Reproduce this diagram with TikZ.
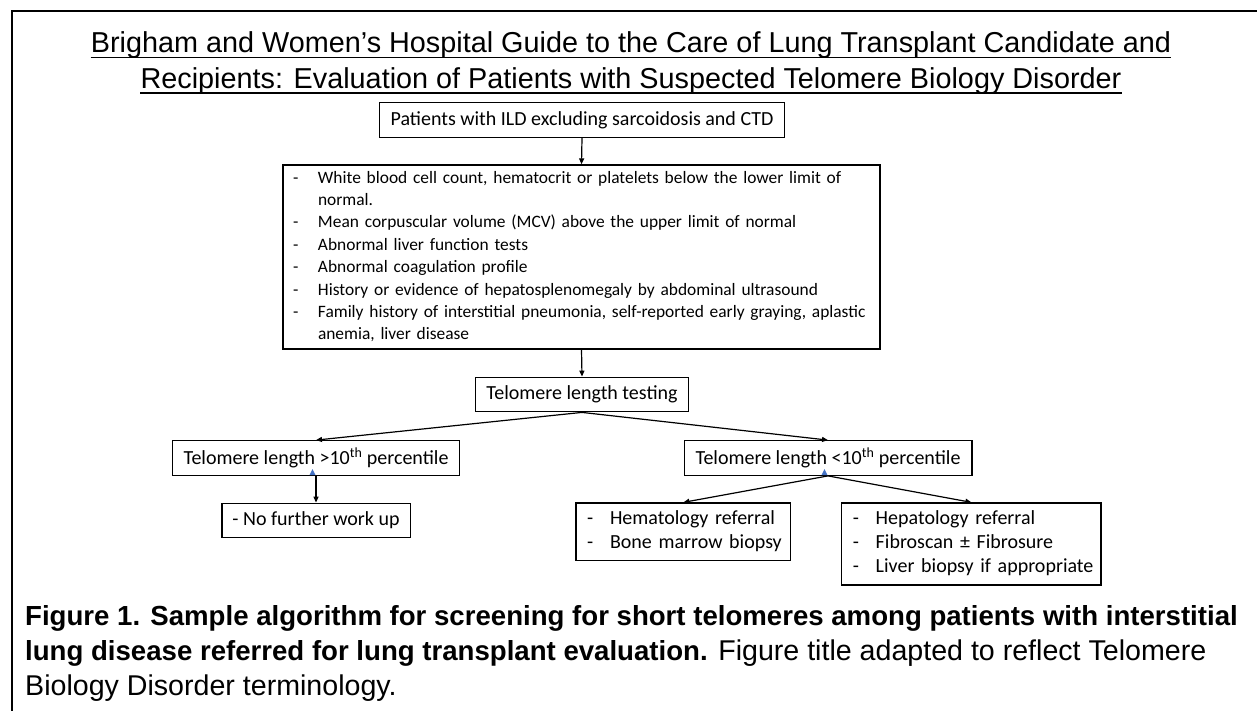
\documentclass[tikz,border=0pt]{standalone}
\usepackage{fontspec}
\setmainfont{Liberation Sans}
\newfontfamily\boxfont{Carlito}
\usetikzlibrary{arrows.meta}
\definecolor{blueblip}{RGB}{68,114,196}
\tikzset{
  frame/.style={line width=2.2pt},
  uline/.style={line width=1.8pt},
  titletxt/.style={inner sep=0pt, anchor=base, font=\fontsize{28.8}{34}\selectfont},
  capline/.style={inner sep=0pt, anchor=base west, font=\fontsize{28.6}{35}\selectfont},
  sbox/.style={draw, line width=1.3pt, inner xsep=9pt, inner ysep=0pt, font=\boxfont\fontsize{20}{24}\selectfont, minimum height=34.5pt},
  listbox/.style={draw, line width=1.3pt, inner xsep=11pt, inner ysep=0pt, align=left, font=\boxfont\fontsize{20}{24}\selectfont},
  conn/.style={line width=1.2pt, -{Triangle[length=6pt,width=5pt]}},
  blip/.style={fill=blueblip}
}
\newcommand{\capbold}[1]{{\fontsize{27.6}{35}\selectfont\bfseries #1}}
\begin{document}
\begin{tikzpicture}[x=1pt,y=-1pt]
\useasboundingbox (0,0) rectangle (1257,711);
% open frame
\coordinate (fbl) at (12,711);
\coordinate (ftl) at (12,11);
\coordinate (ftr) at (1257,11);
\draw[frame] (fbl) -- (ftl) -- (ftr);
% title
\node[titletxt] (t1) at (631,53) {Brigham and Women’s Hospital Guide to the Care of Lung Transplant Candidate and};
\node[titletxt] (t2) at (631,88.5) {Recipients: Evaluation of Patients with Suspected Telomere Biology Disorder};
\draw[uline] ([yshift=-4.5pt]t1.base west) -- ([yshift=-4.5pt]t1.base east);
\draw[uline] ([yshift=-4.5pt]t2.base west) -- ([yshift=-4.5pt]t2.base east);
% boxes
\node[sbox, minimum width=405pt] (a) at (582,120) {Patients with ILD excluding sarcoidosis and CTD};
\node[listbox, inner xsep=10pt, text width=577pt, minimum height=184pt, font=\boxfont\fontsize{17.4}{22.4}\selectfont] (b) at (581.5,257) {%
\begin{tabular}{@{}p{25pt}@{}l@{}}
-& White blood cell count, hematocrit or platelets below the lower limit of\\
 & normal.\\
-& Mean corpuscular volume (MCV) above the upper limit of normal\\
-& Abnormal liver function tests\\
-& Abnormal coagulation profile\\
-& History or evidence of hepatosplenomegaly by abdominal ultrasound\\
-& Family history of interstitial pneumonia, self-reported early graying, aplastic\\
 & anemia, liver disease
\end{tabular}};
\node[sbox, minimum width=213.6pt] (c) at (582,394.5) {Telomere length testing};
\node[sbox, minimum width=287.6pt] (d) at (316,458) {Telomere length >10\textsuperscript{th} percentile};
\node[sbox, minimum width=287.7pt] (e) at (828,458) {Telomere length <10\textsuperscript{th} percentile};
\node[sbox, minimum width=188.3pt] (f) at (316,520.5) {- No further work up};
\node[listbox, text width=192.7pt, minimum height=57.6pt] (g) at (683.4,531.8) {%
\begin{tabular}{@{}p{23pt}@{}l@{}}
-& Hematology referral\\
-& Bone marrow biopsy
\end{tabular}};
\node[listbox, text width=237.3pt, minimum height=82pt] (h) at (971.4,544) {%
\begin{tabular}{@{}p{23pt}@{}l@{}}
-& Hepatology referral\\
-& Fibroscan ± Fibrosure\\
-& Liver biopsy if appropriate
\end{tabular}};
% connectors
\draw[conn] (a.south) -- (b.north);
\draw[conn] (b.south) -- (c.north);
\draw[conn] (c.south) -- (d.north);
\draw[conn] (c.south) -- (e.north);
\draw[conn] (d.south) -- (f.north);
\draw[conn] (e.south) -- (g.north);
\draw[conn] (e.south) -- (h.north);
% small blue marks
\fill[blip] ([shift={(-6.5,-0.7)}]d.south) -- ++(3,-6) -- ++(3,6) -- cycle;
\fill[blip] ([shift={(-6.5,-0.7)}]e.south) -- ++(3,-6) -- ++(3,6) -- cycle;
% caption
\node[capline] (c1) at (25,625) {\capbold{Figure 1. Sample algorithm for screening for short telomeres among patients with interstitial}};
\node[capline] (c2) at (25,660) {\capbold{lung disease referred for lung transplant evaluation.} Figure title adapted to reflect Telomere};
\node[capline] (c3) at (25,695) {Biology Disorder terminology.};
\end{tikzpicture}
\end{document}
